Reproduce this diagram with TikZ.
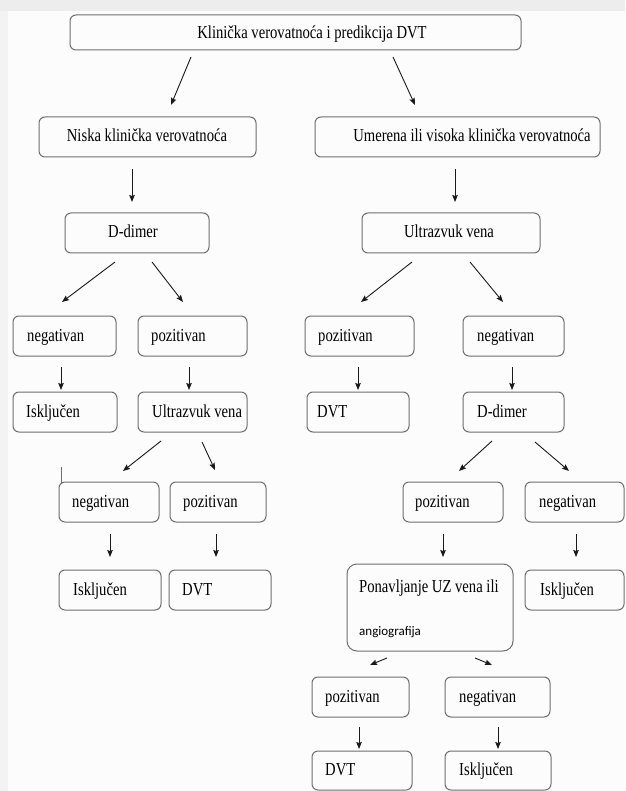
\documentclass[tikz,border=0pt]{standalone}
\usepackage{fontspec}
\setmainfont{Liberation Serif}[FakeStretch=0.8]
\newfontfamily\calfont{Carlito}
\usetikzlibrary{arrows.meta}
\definecolor{bgcol}{HTML}{FCFCFC}
\definecolor{stripcol}{HTML}{EDEDED}
\definecolor{leftcol}{HTML}{F3F3F3}
\definecolor{boxgray}{HTML}{6E6E6E}
\definecolor{arrcol}{HTML}{1A1A1A}
\tikzset{
  box/.style={draw=boxgray, line width=1pt, rounded corners=6pt, inner sep=0pt},
  txt/.style={inner sep=0pt, font=\fontsize{18.3}{20}\selectfont, text=black},
  ltxt/.style={txt, anchor=base west},
  ctxt/.style={txt, anchor=base},
  arr/.style={draw=arrcol, line width=0.9pt, -{Stealth[length=7pt,width=5.5pt,inset=1pt]}},
}
\begin{document}
\begin{tikzpicture}[x=1pt,y=-1pt]
\useasboundingbox (0,0) rectangle (625,791);
\fill[bgcol] (0,0) rectangle (625,791);
\fill[stripcol] (0,0) rectangle (625,11);
\fill[leftcol] (0,11) rectangle (8,791);

% boxes
\node[box, minimum width=451pt, minimum height=35pt] (top) at (295.5,32.5) {};
\node[box, minimum width=217pt, minimum height=40pt] (niska) at (147.5,137) {};
\node[box, minimum width=285pt, minimum height=40pt] (umer) at (457.5,137) {};
\node[box, minimum width=144pt, minimum height=40pt] (ddL) at (137,233) {};
\node[box, minimum width=178pt, minimum height=40pt] (uzR) at (451,233) {};
\node[box, minimum width=103pt, minimum height=40pt] (negL1) at (64.5,336) {};
\node[box, minimum width=109pt, minimum height=40pt] (pozL1) at (192.5,336) {};
\node[box, minimum width=109pt, minimum height=40pt] (pozR1) at (359.5,336) {};
\node[box, minimum width=101pt, minimum height=40pt] (negR1) at (513.5,336) {};
\node[box, minimum width=104pt, minimum height=40pt] (isklL2) at (65,412) {};
\node[box, minimum width=109pt, minimum height=40pt] (uzL2) at (192.5,412) {};
\node[box, minimum width=102pt, minimum height=40pt] (dvtR2) at (358,412) {};
\node[box, minimum width=101pt, minimum height=40pt] (ddR2) at (513.5,412) {};
\node[box, minimum width=100pt, minimum height=40pt] (negL3) at (109,502) {};
\node[box, minimum width=96pt, minimum height=40pt] (pozL3) at (218,502) {};
\node[box, minimum width=100pt, minimum height=40pt] (pozR3) at (453,502) {};
\node[box, minimum width=99pt, minimum height=40pt] (negR3) at (574.5,502) {};
\node[box, minimum width=102pt, minimum height=40pt] (isklL4) at (110,590) {};
\node[box, minimum width=102pt, minimum height=40pt] (dvtL4) at (220,590) {};
\node[box, minimum width=166pt, minimum height=87pt, rounded corners=10pt] (pon) at (430,607.5) {};
\node[box, minimum width=99pt, minimum height=40pt] (isklR4) at (574.5,590) {};
\node[box, minimum width=97pt, minimum height=40pt] (pozR5) at (360.5,697) {};
\node[box, minimum width=105pt, minimum height=40pt] (negR5) at (497.5,697) {};
\node[box, minimum width=100pt, minimum height=39pt] (dvtR6) at (362,770.5) {};
\node[box, minimum width=106pt, minimum height=39pt] (isklR6) at (498,770.5) {};

% texts
\node[ctxt] (topT) at (312,39) {Klinička verovatnoća i predikcija DVT};
\node[ctxt] (niskaT) at (147,142) {Niska klinička verovatnoća};
\node[ctxt] (umerT) at (472,142) {Umerena ili visoka klinička verovatnoća};
\node[ctxt] (ddLT) at (133,238) {D-dimer};
\node[ctxt] (uzRT) at (449,238) {Ultrazvuk vena};
\node[ltxt] (negL1T) at (27,341) {negativan};
\node[ltxt] (pozL1T) at (151,341) {pozitivan};
\node[ltxt] (pozR1T) at (318,341) {pozitivan};
\node[ltxt] (negR1T) at (477,341) {negativan};
\node[ltxt] (isklL2T) at (26,417) {Isključen};
\node[ltxt] (uzL2T) at (152,417) {Ultrazvuk vena};
\node[ltxt] (dvtR2T) at (317,417) {DVT};
\node[ltxt] (ddR2T) at (477,417) {D-dimer};
\node[ltxt] (negL3T) at (72,507) {negativan};
\node[ltxt] (pozL3T) at (183,507) {pozitivan};
\node[ltxt] (pozR3T) at (415,507) {pozitivan};
\node[ltxt] (negR3T) at (539,507) {negativan};
\node[ltxt] (isklL4T) at (73,595) {Isključen};
\node[ltxt] (dvtL4T) at (182,595) {DVT};
\node[ltxt] (ponT1) at (359,592) {Ponavljanje UZ vena ili};
\node[anchor=base west, inner sep=0pt, font=\calfont\fontsize{13}{15}\selectfont, text=black] (ponT2) at (359,635) {angiografija};
\node[ltxt] (isklR4T) at (540,595) {Isključen};
\node[ltxt] (pozR5T) at (325,702) {pozitivan};
\node[ltxt] (negR5T) at (459,702) {negativan};
\node[ltxt] (dvtR6T) at (325,775) {DVT};
\node[ltxt] (isklR6T) at (459,775) {Isključen};

% arrow end points
\coordinate (a1s) at (191,57);  \coordinate (a1e) at (171,105);
\coordinate (a2s) at (393,57);  \coordinate (a2e) at (415,105);
\coordinate (a3s) at (132,169); \coordinate (a3e) at (132,202);
\coordinate (a4s) at (455,169); \coordinate (a4e) at (455,202);
\coordinate (a5s) at (115,262); \coordinate (a5e) at (62,302);
\coordinate (a6s) at (152,262); \coordinate (a6e) at (183,302);
\coordinate (a7s) at (412,262); \coordinate (a7e) at (361,302);
\coordinate (a8s) at (470,262); \coordinate (a8e) at (503,302);
\coordinate (a9s) at (61,367);  \coordinate (a9e) at (61,390);
\coordinate (a10s) at (189,367); \coordinate (a10e) at (189,390);
\coordinate (a11s) at (358,367); \coordinate (a11e) at (358,390);
\coordinate (a12s) at (512,367); \coordinate (a12e) at (512,390);
\coordinate (a13s) at (161,441); \coordinate (a13e) at (123,471);
\coordinate (a14s) at (202,442); \coordinate (a14e) at (215,470);
\coordinate (a15s) at (492,441); \coordinate (a15e) at (459,471);
\coordinate (a16s) at (535,442); \coordinate (a16e) at (569,471);
\coordinate (a17s) at (110,534); \coordinate (a17e) at (110,557);
\coordinate (a18s) at (216,534); \coordinate (a18e) at (216,557);
\coordinate (a19s) at (443,534); \coordinate (a19e) at (443,557);
\coordinate (a20s) at (576,534); \coordinate (a20e) at (576,557);
\coordinate (a21s) at (387,658); \coordinate (a21e) at (370,665);
\coordinate (a22s) at (475,658); \coordinate (a22e) at (492,665);
\coordinate (a23s) at (359,727); \coordinate (a23e) at (359,749);
\coordinate (a24s) at (498,727); \coordinate (a24e) at (498,749);

\foreach \i in {1,...,24} { \draw[arr] (a\i s) -- (a\i e); }

% stray mark
\coordinate (st1) at (61,467); \coordinate (st2) at (61,484);
\draw[draw=boxgray, line width=0.9pt] (st1) -- (st2);
\end{tikzpicture}
\end{document}
